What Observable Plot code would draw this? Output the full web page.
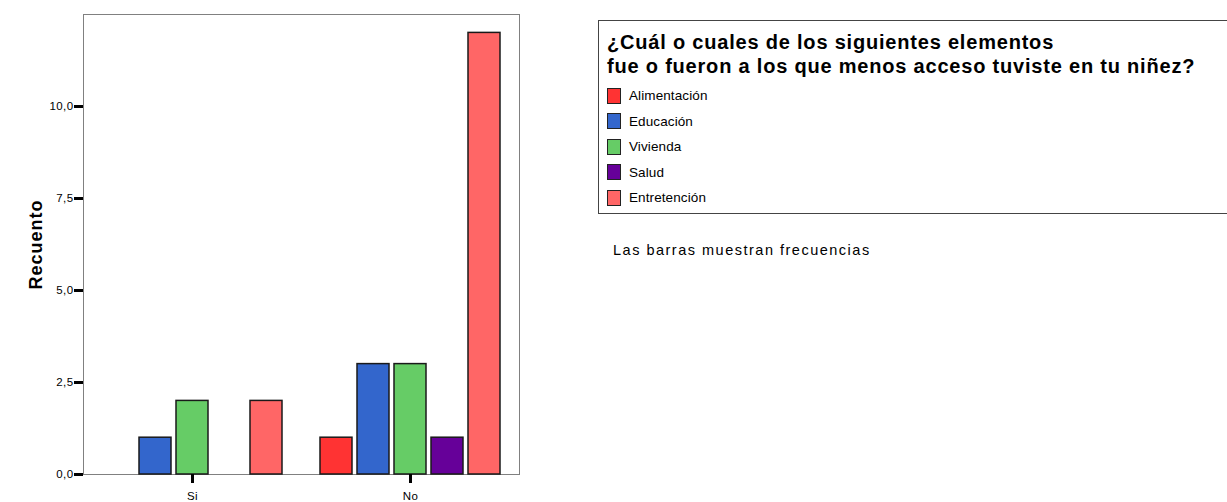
<!DOCTYPE html>
<html>
<head>
<meta charset="utf-8">
<script src="https://cdn.jsdelivr.net/npm/d3@7"></script>
<script src="https://cdn.jsdelivr.net/npm/@observablehq/plot@0.6"></script>
<style>
  html, body { margin: 0; padding: 0; background: #fff; }
  body { font-family: "Liberation Sans", Arial, sans-serif; color: #000; }
  #wrap { position: relative; width: 1227px; height: 502px; overflow: hidden; }
  #chart { position: absolute; left: 0; top: 0; }
  #legend { position: absolute; left: 598px; top: 20px; width: 660px; height: 194px;
            border: 1px solid #444; box-sizing: border-box; }
  #legend .title { position: absolute; left: 8px; top: 9px; font-size: 20px; font-weight: bold;
                   letter-spacing: 0.8px; line-height: 24px; white-space: nowrap; }
  #legend .item { position: absolute; left: 8px; height: 17px; display: flex; align-items: center;
                  font-size: 13.5px; letter-spacing: 0.1px; white-space: nowrap; }
  #legend .sw { width: 14px; height: 16px; border: 1px solid #222; box-sizing: border-box; margin-right: 8px; }
  #note { position: absolute; left: 613px; top: 242px; font-size: 14.5px; letter-spacing: 1.5px; white-space: nowrap; }
</style>
</head>
<body>
<div id="wrap">
  <div id="chart"></div>
  <div id="legend"></div>
  <div id="note"></div>
</div>
<script>
// ---- data ----
const groups = ["Si", "No"];
const categories = ["Alimentación", "Educación", "Vivienda", "Salud", "Entretención"];
const siCounts = [0, 1, 2, 0, 2];
const noCounts = [1, 3, 3, 1, 12];
const colors = ["#ff3333", "#3366cc", "#66cc66", "#660099", "#ff6666"];
const yTicks = [0, 2.5, 5, 7.5, 10];
const yLabel = "Recuento";
const legendTitle = ["¿Cuál o cuales de los siguientes elementos", "fue o fueron a los que menos acceso tuviste en tu niñez?"];
const note = "Las barras muestran frecuencias";

const data = [];
categories.forEach((c, i) => {
  data.push({group: "Si", category: c, count: siCounts[i]});
  data.push({group: "No", category: c, count: noCounts[i]});
});
const bars = data.filter(d => d.count > 0);

const fmt = d => d.toFixed(1).replace(".", ",");

const plot = Plot.plot({
  width: 1227,
  height: 502,
  marginLeft: 82,
  marginRight: 708,
  marginTop: 14,
  marginBottom: 28,
  style: { fontFamily: "'Liberation Sans', Arial, sans-serif", fontSize: "11.5px", color: "#000", background: "transparent" },
  fx: { domain: groups, padding: 0, label: null },
  x: { domain: categories, paddingInner: 0.141, paddingOuter: 0.503, axis: null },
  y: { domain: [0, 12.5] },
  color: { domain: categories, range: colors },
  marks: [
    Plot.frame({ facet: "super", stroke: "#808080" }),
    Plot.barY(bars, { fx: "group", x: "category", y: "count", fill: "category", stroke: "#1a1a1a", strokeWidth: 1.5 }),
    Plot.axisY({ ticks: yTicks, tickSize: 9, tickPadding: 1, strokeWidth: 3, tickFormat: fmt,
                 label: yLabel, labelAnchor: "center", labelOffset: 54 }),
    Plot.axisFx({ anchor: "bottom", tickSize: 9, tickPadding: 8, strokeWidth: 3, label: null })
  ]
});
document.getElementById("chart").appendChild(plot);

// tick label spacing
d3.select(plot).selectAll("[aria-label='y-axis tick label'] text, [aria-label='fx-axis tick label'] text")
  .style("letter-spacing", "0.4px");
// style y label
d3.select(plot).selectAll("[aria-label='y-axis label'] text")
  .text(yLabel)
  .style("font-size", "18px")
  .style("font-weight", "bold")
  .style("letter-spacing", "1px");

// legend
const leg = d3.select("#legend");
leg.append("div").attr("class", "title").html(legendTitle.join("<br>"));
categories.forEach((c, i) => {
  const it = leg.append("div").attr("class", "item").style("top", (66 + i * 25.5) + "px");
  it.append("div").attr("class", "sw").style("background", colors[i]);
  it.append("span").text(c);
});
d3.select("#note").text(note);
</script>
</body>
</html>
